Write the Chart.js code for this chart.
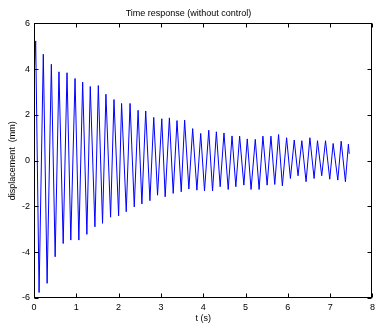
<!DOCTYPE html>
<html>
<head>
<meta charset="utf-8">
<script src="https://cdn.jsdelivr.net/npm/chart.js@4/dist/chart.umd.min.js"></script>
<style>
html,body{margin:0;padding:0;background:#fff;}
#wrap{width:379px;height:325px;}
</style>
</head>
<body>
<div id="wrap"><canvas id="c" width="379" height="325"></canvas></div>
<script>
// Values (extrema of the response)
const startT = 0, startV = 3.6;
const peakT = [0.04,0.22,0.41,0.59,0.78,0.97,1.15,1.33,1.52,1.70,1.89,2.07,2.27,2.46,2.64,2.83,3.02,3.20,3.38,3.56,3.75,3.94,4.13,4.31,4.49,4.68,4.86,5.04,5.23,5.41,5.60,5.78,5.97,6.15,6.33,6.52,6.70,6.89,7.07,7.26,7.43];
const peakV = [5.23,4.65,4.21,3.88,3.84,3.59,3.43,3.24,3.28,2.90,2.67,2.50,2.50,2.20,2.17,1.89,1.83,1.87,1.75,1.77,1.40,1.19,1.33,1.26,1.21,1.08,1.07,0.95,0.93,1.07,1.07,1.14,1.00,0.90,0.87,1.00,0.87,0.87,0.75,0.85,0.72];
const troughT = [0.12,0.31,0.50,0.69,0.87,1.06,1.25,1.44,1.62,1.81,2.00,2.18,2.37,2.55,2.74,2.92,3.10,3.29,3.48,3.66,3.85,4.03,4.22,4.40,4.59,4.77,4.96,5.13,5.32,5.51,5.69,5.87,6.06,6.24,6.43,6.62,6.80,6.99,7.18,7.36];
const troughV = [-5.76,-5.36,-4.20,-3.62,-3.47,-3.47,-3.22,-2.89,-2.74,-2.47,-2.41,-2.23,-2.02,-1.89,-1.75,-1.51,-1.58,-1.43,-1.36,-1.24,-1.29,-1.32,-1.32,-1.14,-1.26,-1.14,-1.07,-1.26,-1.26,-1.07,-1.04,-1.10,-0.78,-0.66,-0.92,-0.78,-0.66,-0.81,-0.85,-0.92];
const endT = 7.45, endV = 0.3;
const xTicks = [0,1,2,3,4,5,6,7,8];
const yTicks = [-6,-4,-2,0,2,4,6];

const pts = [{x:startT,y:startV}];
peakT.forEach((t,i)=>pts.push({x:t,y:peakV[i]}));
troughT.forEach((t,i)=>pts.push({x:t,y:troughV[i]}));
pts.push({x:endT,y:endV});
pts.sort((a,b)=>a.x-b.x);

const FONT = "'Liberation Sans', Arial, sans-serif";

const boxPlugin = {
  id:'box',
  afterDraw(chart){
    const {ctx, chartArea:{left,right,top,bottom}, scales:{x,y}} = chart;
    ctx.save();
    ctx.strokeStyle = '#000';
    ctx.lineWidth = 1;
    const L = Math.round(left)+0.5, R = Math.round(right)-0.5, T = Math.round(top)+0.5, B = Math.round(bottom)-0.5;
    ctx.beginPath();
    xTicks.forEach(v=>{
      const px = Math.round(x.getPixelForValue(v))+0.5;
      ctx.moveTo(px,B); ctx.lineTo(px,B-4);
      ctx.moveTo(px,T); ctx.lineTo(px,T+4);
    });
    yTicks.forEach(v=>{
      const py = Math.round(y.getPixelForValue(v))+0.5;
      ctx.moveTo(L,py); ctx.lineTo(L+4,py);
      ctx.moveTo(R,py); ctx.lineTo(R-4,py);
    });
    ctx.stroke();
    ctx.strokeRect(L,T,R-L,B-T);
    ctx.restore();
  }
};

new Chart(document.getElementById('c'),{
  type:'line',
  data:{datasets:[{data:pts,borderColor:'#0000ff',borderWidth:1,pointRadius:0,tension:0,fill:false}]},
  options:{
    responsive:false,animation:false,
    layout:{padding:{left:0,right:2,top:0,bottom:0}},
    plugins:{
      legend:{display:false},tooltip:{enabled:false},
      title:{display:true,text:'Time response (without control)',color:'#000',font:{family:FONT,size:9,weight:'normal'},padding:{top:8,bottom:4.5}}
    },
    scales:{
      x:{type:'linear',min:0,max:8,
        afterFit(s){s.height=27;},
        afterBuildTicks(s){s.ticks=xTicks.map(v=>({value:v}));},
        grid:{display:false,drawTicks:false},border:{display:false},
        ticks:{color:'#000',font:{family:FONT,size:9},padding:4,maxRotation:0,autoSkip:false},
        title:{display:true,text:'t (s)',color:'#000',font:{family:FONT,size:9},padding:{top:1.5,bottom:1.5}}
      },
      y:{type:'linear',min:-6,max:6,
        afterFit(s){s.width=34;},
        afterBuildTicks(s){s.ticks=yTicks.map(v=>({value:v}));},
        grid:{display:false,drawTicks:false},border:{display:false},
        ticks:{color:'#000',font:{family:FONT,size:9},padding:4,autoSkip:false},
        title:{display:true,text:'displacement  (mm)',color:'#000',font:{family:FONT,size:9},padding:{top:7.5,bottom:7.5}}
      }
    }
  },
  plugins:[boxPlugin]
});
</script>
</body>
</html>
